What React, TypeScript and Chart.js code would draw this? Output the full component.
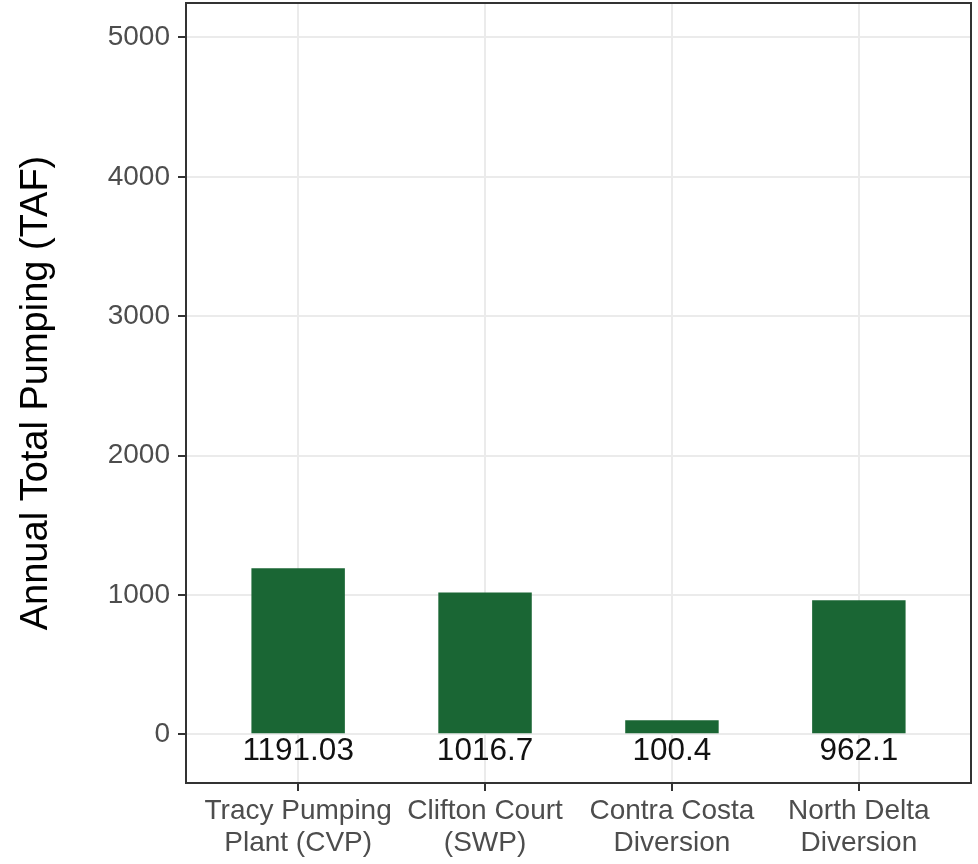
import React, { useEffect, useRef } from "react";
import { Chart, registerables } from "chart.js";

Chart.register(...registerables);

const categories: string[][] = [
  ["Tracy Pumping", "Plant (CVP)"],
  ["Clifton Court", "(SWP)"],
  ["Contra Costa", "Diversion"],
  ["North Delta", "Diversion"],
];
const positions = [1, 2, 3, 4];
const values = [1191.03, 1016.7, 100.4, 962.1];
const valueLabels = ["1191.03", "1016.7", "100.4", "962.1"];
const yTicks = [0, 1000, 2000, 3000, 4000, 5000];

const FONT = "'Liberation Sans', Arial, sans-serif";

const panelBorder = {
  id: "panelBorder",
  afterDraw(chart: any) {
    const { ctx, chartArea } = chart;
    ctx.save();
    ctx.strokeStyle = "#333333";
    ctx.lineWidth = 2;
    ctx.strokeRect(chartArea.left, chartArea.top, chartArea.right - chartArea.left, chartArea.bottom - chartArea.top);
    ctx.restore();
  },
};

const valueText = {
  id: "valueText",
  afterDatasetsDraw(chart: any) {
    const { ctx, scales } = chart;
    const y0 = scales.y.getPixelForValue(0);
    ctx.save();
    ctx.fillStyle = "#111111";
    ctx.font = `31.5px ${FONT}`;
    ctx.textAlign = "center";
    ctx.textBaseline = "alphabetic";
    positions.forEach((p, i) => {
      ctx.fillText(valueLabels[i], scales.x.getPixelForValue(p), y0 + 26);
    });
    ctx.restore();
  },
};

export default function App() {
  const ref = useRef<HTMLCanvasElement>(null);
  useEffect(() => {
    document.body.style.margin = "0";
    const chart = new Chart(ref.current!, {
      type: "bar",
      data: {
        datasets: [
          {
            data: positions.map((x, i) => ({ x, y: values[i] })),
            backgroundColor: "#1A6634",
            borderWidth: 0,
            barPercentage: 0.5,
            categoryPercentage: 1,
          },
        ],
      },
      options: {
        responsive: false,
        animation: false,
        layout: { padding: { top: 3, right: 7, left: 0, bottom: 0 } },
        plugins: { legend: { display: false }, tooltip: { enabled: false } },
        scales: {
          x: {
            type: "linear",
            min: 0.4,
            max: 4.6,
            offset: false,
            afterBuildTicks: (s: any) => {
              s.ticks = positions.map((v) => ({ value: v }));
            },
            afterFit: (s: any) => {
              s.height = 81;
              s.paddingLeft = 0;
              s.paddingRight = 0;
              s.paddingTop = 0;
              s.paddingBottom = 0;
            },
            grid: { offset: false, color: "#EBEBEB", lineWidth: 2, drawTicks: true, tickLength: 8, tickColor: "#333333", tickWidth: 2 },
            border: { display: false },
            ticks: {
              callback: (_v: any, i: number) => categories[i],
              color: "#4D4D4D",
              font: { family: FONT, size: 28, lineHeight: 1.15 },
              padding: 4,
              maxRotation: 0,
              autoSkip: false,
            },
          },
          y: {
            min: -350,
            max: 5247,
            afterBuildTicks: (s: any) => {
              s.ticks = yTicks.map((v) => ({ value: v }));
            },
            afterFit: (s: any) => {
              s.width = 186;
              s.paddingLeft = 0;
              s.paddingRight = 0;
              s.paddingTop = 0;
              s.paddingBottom = 0;
            },
            grid: { color: "#EBEBEB", lineWidth: 2, drawTicks: true, tickLength: 8, tickColor: "#333333", tickWidth: 2 },
            border: { display: false },
            ticks: {
              color: "#4D4D4D",
              font: { family: FONT, size: 28 },
              padding: 8,
              callback: (v: any) => String(v),
            },
            title: {
              display: true,
              text: "Annual Total Pumping (TAF)",
              color: "#000000",
              font: { family: FONT, size: 38 },
              padding: { top: 14, bottom: 0 },
            },
          },
        },
      },
      plugins: [panelBorder, valueText],
    } as any);
    return () => chart.destroy();
  }, []);
  return <canvas ref={ref} width={978} height={864} style={{ display: "block" }} />;
}
